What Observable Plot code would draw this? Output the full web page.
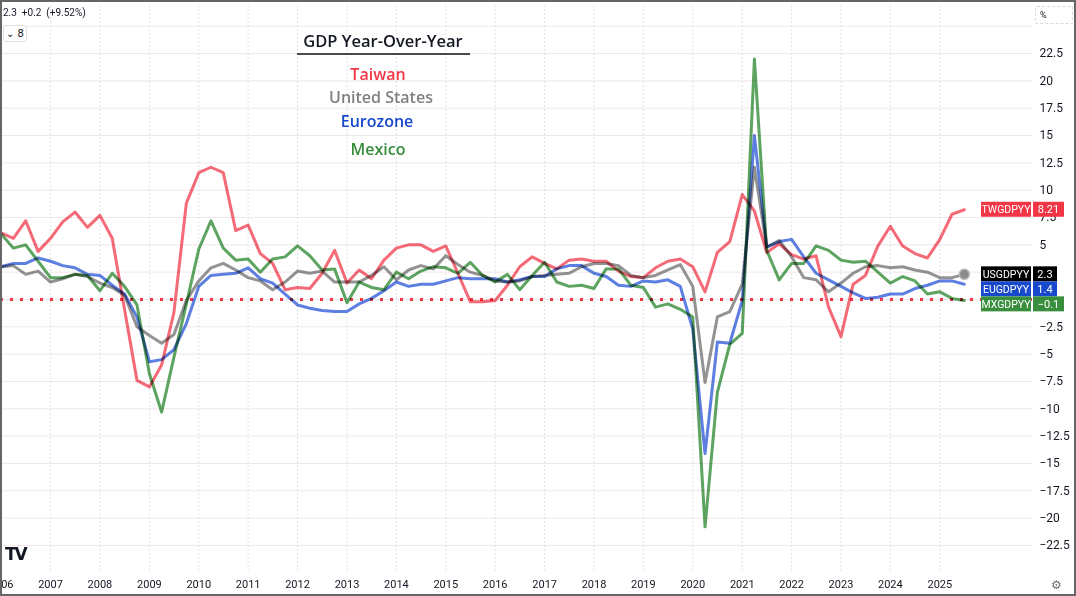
<!DOCTYPE html>
<html>
<head>
<meta charset="utf-8">
<script src="https://cdn.jsdelivr.net/npm/d3@7"></script>
<script src="https://cdn.jsdelivr.net/npm/@observablehq/plot@0.6"></script>
<style>
  body { margin: 0; background: #fff; }
  #wrap { position: relative; width: 1076px; height: 596px; overflow: hidden; background: #fff; }
  .ov { position: absolute; white-space: nowrap; }
  .leg { position: absolute; width: 240px; text-align: center; font-family: "Open Sans", sans-serif; font-weight: 600; font-size: 16px; line-height: 20px; }
</style>
</head>
<body>
<div id="wrap"></div>
<script>
// ---- data (quarterly GDP YoY %, 2006 Q1 .. 2025 Q3) ----
const taiwan = [
  6.1, 5.6, 7.2, 4.4, 5.6, 7.1, 8.0, 6.6, 7.7, 5.6,
  -0.9, -7.4, -8.0, -6.0, -1.2, 8.8, 11.6, 12.1, 11.6, 6.3,
  6.8, 4.2, 3.3, 0.9, 1.1, 1.0, 2.4, 4.5, 1.5, 2.7,
  1.9, 3.6, 4.7, 5.0, 5.0, 4.4, 4.9, 2.4, -0.2, -0.2,
  -0.1, 1.3, 3.0, 3.9, 3.3, 2.8, 3.6, 3.7, 3.5, 3.5,
  2.6, 2.1, 2.0, 2.9, 3.5, 3.7, 3.0, 0.7, 4.3, 5.3,
  9.6, 8.1, 4.3, 5.1, 4.1, 3.7, 4.0, -0.7, -3.4, 1.4,
  2.2, 4.9, 6.7, 4.9, 4.2, 3.8, 5.5, 7.8, 8.21
];
const unitedStates = [
  3.0, 3.1, 2.3, 2.6, 1.6, 1.9, 2.3, 2.1, 1.5, 1.1,
  0.4, -2.5, -3.3, -4.0, -3.2, -0.1, 1.7, 2.9, 3.3, 2.7,
  2.0, 1.7, 0.9, 1.6, 2.6, 2.4, 2.6, 1.6, 1.6, 1.6,
  2.2, 3.0, 1.8, 2.7, 3.1, 2.8, 4.0, 3.2, 2.5, 2.2,
  1.7, 1.6, 1.7, 2.1, 2.2, 2.3, 2.4, 3.0, 3.3, 3.3,
  3.1, 2.2, 2.0, 2.2, 2.7, 3.2, 1.2, -7.6, -1.6, -1.1,
  1.4, 12.1, 4.8, 5.4, 3.9, 2.0, 1.8, 0.7, 1.5, 2.4,
  3.0, 3.1, 2.9, 3.0, 2.7, 2.5, 2.0, 2.0, 2.3
];
const eurozone = [
  3.0, 3.3, 3.3, 3.8, 3.5, 3.1, 2.9, 2.3, 2.2, 1.3,
  0.5, -1.6, -5.7, -5.5, -4.6, -2.2, 1.2, 2.2, 2.3, 2.4,
  2.9, 1.9, 1.5, 0.5, -0.5, -0.8, -1.0, -1.1, -1.1, -0.4,
  0.1, 0.8, 1.6, 1.2, 1.4, 1.4, 1.7, 2.0, 1.9, 1.9,
  1.9, 1.6, 1.8, 2.1, 2.1, 2.8, 3.1, 3.1, 2.4, 2.1,
  1.3, 1.2, 1.7, 1.6, 1.8, 1.2, -2.7, -14.1, -3.9, -4.0,
  -0.1, 15.0, 4.8, 5.3, 5.5, 3.9, 2.4, 1.8, 1.2, 0.6,
  0.1, 0.2, 0.5, 0.5, 1.0, 1.3, 1.7, 1.7, 1.4
];
const mexico = [
  6.0, 4.7, 5.0, 3.5, 2.0, 2.0, 2.3, 2.2, 0.8, 2.4,
  1.2, -0.5, -6.8, -10.3, -5.3, -0.4, 4.6, 7.2, 4.7, 3.6,
  3.7, 2.5, 3.7, 3.9, 4.9, 4.0, 2.7, 2.8, -0.3, 1.6,
  1.1, 0.9, 2.5, 1.9, 2.6, 3.0, 2.9, 2.4, 3.4, 2.2,
  1.6, 2.3, 0.9, 2.2, 3.4, 1.6, 1.2, 1.3, 1.0, 2.8,
  2.8, 1.3, 1.1, -0.7, -0.4, -0.9, -1.6, -20.8, -8.5, -4.1,
  -3.1, 22.0, 4.5, 1.8, 3.3, 3.3, 4.9, 4.5, 3.6, 3.4,
  3.5, 2.5, 1.5, 2.1, 1.7, 0.5, 0.7, 0.1, -0.1
];
const seriesNames = ["Taiwan", "United States", "Eurozone", "Mexico"];
const tickers = ["TWGDPYY", "USGDPYY", "EUGDPYY", "MXGDPYY"];
const lineColors = ["#f2505f", "#808080", "#4169dc", "#3f9443"];
const boxColors = ["#f23645", "#000000", "#1848cc", "#388e3c"];
const legendColors = ["#f23645", "#808080", "#1848cc", "#388e3c"];
const yearTicks = d3.range(2006, 2026);
const yTicks = d3.range(-22.5, 25.01, 2.5);

// ---- layout ----
const W = 1076, H = 596, mTop = 5, mBottom = 24, mRight = 44;
const yDomain = [-24.98, 26.9];
const pxPerUnit = (H - mTop - mBottom) / (yDomain[1] - yDomain[0]);

// ---- build ----
const startYear = 2006;
const quarters = d3.range(taiwan.length).map(i => new Date(Date.UTC(startYear + Math.floor(i / 4), (i % 4) * 3, 1)));
const allValues = [taiwan, unitedStates, eurozone, mexico];
const series = seriesNames.map((name, k) => ({
  name, ticker: tickers[k], line: lineColors[k], box: boxColors[k],
  rows: allValues[k].map((v, i) => ({date: quarters[i], value: v}))
}));
const yearDates = yearTicks.map(y => new Date(Date.UTC(y, 0, 1)));

// last-value labels on the price scale, pushed apart so they do not overlap
const lastLabels = series.map(s => ({s, v: s.rows[s.rows.length - 1].value}));
lastLabels.sort((a, b) => b.v - a.v);
{
  const gap = 15 / pxPerUnit;
  let prev = Infinity;
  for (const d of lastLabels) {
    d.pos = Math.min(d.v, prev - gap);
    prev = d.pos;
  }
}
// tick labels hidden behind the label boxes (and the % box at the top)
const hiddenTick = t => t >= 25 || lastLabels.some(d => Math.abs(d.pos - t) < 0.6);
const fmt = d3.format("");

function labelMark(index, scales, values, dim) {
  const g = d3.create("svg:g").attr("font-family", "Roboto, sans-serif");
  const right = dim.width - dim.marginRight;
  for (const d of lastLabels) {
    const y = scales.y(d.pos);
    const txt = fmt(d.v);
    const vw = 7 * txt.length + 3;
    g.append("rect").attr("x", right - 51).attr("y", y - 7.5).attr("width", 50).attr("height", 15).attr("fill", d.s.box);
    g.append("rect").attr("x", right + 1).attr("y", y - 7.5).attr("width", vw).attr("height", 15).attr("fill", d.s.box);
    g.append("text").attr("x", right - 26).attr("y", y).attr("dy", "0.36em").attr("text-anchor", "middle")
      .attr("fill", "#fff").attr("font-size", 10.5).text(d.s.ticker);
    g.append("text").attr("x", right + 1 + vw / 2).attr("y", y).attr("dy", "0.36em").attr("text-anchor", "middle")
      .attr("fill", "#fff").attr("font-size", 11).text(txt);
  }
  return g.node();
}

const us = series[1].rows;
const chart = Plot.plot({
  width: W,
  height: H,
  marginLeft: 0,
  marginRight: mRight,
  marginTop: mTop,
  marginBottom: mBottom,
  style: {fontFamily: "Roboto, sans-serif", fontSize: "11px", color: "#131722", background: "#fff", overflow: "hidden", position: "absolute", left: "0px", top: "0px"},
  x: {type: "utc", domain: [new Date(Date.UTC(2005, 11, 27)), new Date(Date.UTC(2026, 10, 17))]},
  y: {domain: yDomain},
  marks: [
    Plot.ruleY(yTicks, {stroke: "#f1e6ea", strokeWidth: 1}),
    Plot.ruleX(yearDates, {stroke: "#dde3e8", strokeWidth: 1, strokeDasharray: "2,2"}),
    Plot.ruleY([0], {stroke: "#f23645", strokeWidth: 3, strokeDasharray: "3,7"}),
    ...series.map(s => Plot.line(s.rows, {x: "date", y: "value", stroke: s.line, strokeWidth: 3, strokeOpacity: 0.85, mixBlendMode: "multiply"})),
    Plot.dot([us[us.length - 1]], {x: "date", y: "value", r: 5, fill: "#8a8a8a", stroke: "#b5b5b5", strokeWidth: 1.5}),
    Plot.axisX({ticks: yearDates, tickFormat: d3.utcFormat("%Y"), tickSize: 0, tickPadding: 8, fontSize: 11, label: null}),
    Plot.axisY({anchor: "right", ticks: yTicks.filter(t => !hiddenTick(t)), tickFormat: fmt, tickSize: 0, tickPadding: 7, fontSize: 12, label: null}),
    labelMark
  ]
});

const wrap = document.getElementById("wrap");
wrap.appendChild(chart);

function addDiv(html, css, cls = "ov") {
  const d = document.createElement("div");
  d.className = cls;
  d.style.cssText = css;
  d.innerHTML = html;
  wrap.appendChild(d);
  return d;
}
// top-left info
addDiv("2.3&nbsp; +0.2&nbsp; (+9.52%)", "left:3px;top:7px;font:10px Roboto,sans-serif;color:#131722;");
addDiv("&#8964; 8", "left:3px;top:25px;width:22px;height:15px;border:1px solid #dcdfe6;border-radius:3px;font:10px 'DejaVu Sans',sans-serif;color:#131722;text-align:center;line-height:15px;background:#fff;");
// % box
addDiv("%", "left:1035px;top:6px;width:38px;height:18px;border:1px dashed #d6d9e0;border-radius:2px;font:9px Roboto,sans-serif;color:#131722;line-height:17px;padding-left:4px;box-sizing:border-box;background:#fff;");
// title block
addDiv("GDP Year-Over-Year", "left:263px;top:31px;color:#131722;font-size:16.5px;", "leg");
addDiv("", "left:297px;top:53px;width:173px;height:2px;background:#4a4a4a;");
seriesNames.forEach((n, k) => {
  const tops = [64, 87, 111, 139];
  const cx = [378, 381, 377, 378];
  addDiv(n, `left:${cx[k] - 120}px;top:${tops[k]}px;color:${legendColors[k]};`, "leg");
});
// TradingView logo and settings icon
addDiv("TV", "left:5px;top:544px;font:900 17px 'DejaVu Sans',sans-serif;letter-spacing:-2px;color:#131722;");
addDiv("&#9881;", "left:1051px;top:578px;font:12px 'DejaVu Sans',sans-serif;color:#6a6d78;");
// outer frame
addDiv("", "left:0;top:0;width:1076px;height:596px;border:2px solid #666;box-sizing:border-box;pointer-events:none;");
</script>
</body>
</html>
